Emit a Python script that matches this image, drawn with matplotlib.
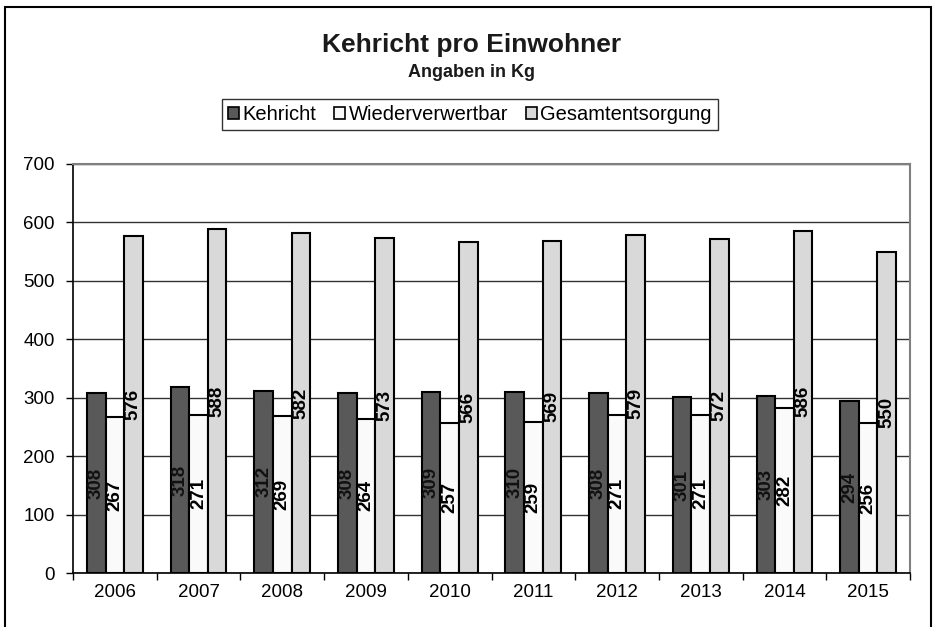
import matplotlib
matplotlib.use("Agg")
import matplotlib.pyplot as plt
import matplotlib.patches as mpatches
import numpy as np

plt.rcParams['font.family'] = ['Liberation Sans', 'DejaVu Sans']

years = ["2006", "2007", "2008", "2009", "2010", "2011", "2012", "2013", "2014", "2015"]
kehricht = [308, 318, 312, 308, 309, 310, 308, 301, 303, 294]
wiederverwertbar = [267, 271, 269, 264, 257, 259, 271, 271, 282, 256]
gesamt = [576, 588, 582, 573, 566, 569, 579, 572, 586, 550]

series = [
    ("Kehricht", kehricht, "#595959", "#111111"),
    ("Wiederverwertbar", wiederverwertbar, "#fafafa", "black"),
    ("Gesamtentsorgung", gesamt, "#d9d9d9", "black"),
]

fig = plt.figure(figsize=(9.4, 6.27), dpi=100)
ax = fig.add_axes([73 / 940, 1 - 573 / 627, (910 - 73) / 940, (573 - 164) / 627])

x = np.arange(len(years))
w = 0.222
offsets = [-w, 0, w]
for (name, vals, col, tcol), off in zip(series, offsets):
    ax.bar(x + off, vals, width=w, color=col, edgecolor="black",
           linewidth=1.5, zorder=3, label=name)
    for xi, v in zip(x + off, vals):
        ax.text(xi, v / 2, str(v), rotation=90, ha="center", va="center",
                fontsize=13.5, fontweight="bold", color=tcol, zorder=4)

ax.set_xlim(-0.5, len(years) - 0.5)
ax.set_ylim(0, 700)
ax.set_yticks(range(0, 701, 100))
ax.set_xticks(x)
ax.set_xticklabels(years)
ax.set_xticks(np.arange(-0.5, len(years), 1.0), minor=True)
ax.tick_params(axis="x", which="major", length=0, labelsize=13.5, pad=8)
ax.tick_params(axis="x", which="minor", length=5, width=1, direction="out")
ax.tick_params(axis="y", length=5, width=1, direction="out", labelsize=13.5, pad=8)

ax.yaxis.grid(True, color="#333333", linewidth=1, zorder=0)
ax.set_axisbelow(True)
for s in ["left", "bottom"]:
    ax.spines[s].set_color("black")
    ax.spines[s].set_linewidth(1.2)
for s in ["top", "right"]:
    ax.spines[s].set_color("#808080")
    ax.spines[s].set_linewidth(1.5)

fig.text(0.502, 0.928, "Kehricht pro Einwohner", ha="center", va="center",
         fontsize=19, fontweight="bold", color="#1a1a1a")
fig.text(0.502, 0.884, "Angaben in Kg", ha="center", va="center",
         fontsize=13, fontweight="bold", color="#1a1a1a")

handles = [mpatches.Patch(facecolor=c, edgecolor="black", linewidth=1.2, label=n)
           for n, _, c, _ in series]
leg = fig.legend(handles=handles, loc="center", bbox_to_anchor=(0.5, 1 - 114.5 / 627),
                 ncol=3, fontsize=14.5, frameon=True, fancybox=False,
                 handlelength=0.55, handleheight=0.55, handletextpad=0.15,
                 columnspacing=0.9, borderpad=0.3, edgecolor="black")
leg.get_frame().set_linewidth(1.0)

border = mpatches.Rectangle((5 / 940, -0.02), (931 - 5) / 940, 1 - 7 / 627 + 0.02,
                            transform=fig.transFigure, fill=False,
                            edgecolor="black", linewidth=1.5)
fig.patches.append(border)

fig.savefig("out.png", dpi=100)
